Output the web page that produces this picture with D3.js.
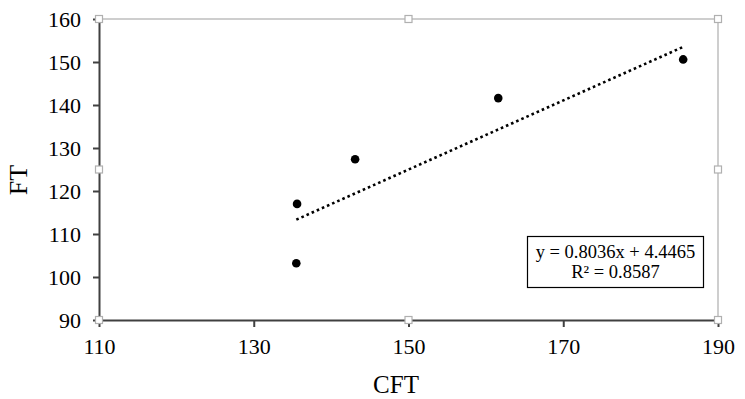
<html><head>
<title>CFT vs FT</title>
<script src="https://d3js.org/d3.v7.min.js"></script>
<style>
  body { margin: 0; background: #fff; }
  svg text { font-family: "Liberation Serif", "Times New Roman", serif; fill: #000; }
  .axis path, .axis line { stroke: #404040; stroke-width: 2; }
</style>
</head>
<body>
<svg id="scatter" width="745" height="399"></svg>
<script>

// data
let cft = [135.6, 135.5, 143.1, 161.6, 185.5];
let ft = [117.0, 103.2, 127.4, 141.6, 150.6];
let xTicks = [110, 130, 150, 170, 190];
let yTicks = [90, 100, 110, 120, 130, 140, 150, 160];
let slope = 0.8036, intercept = 4.4465;
let eqLines = ["y = 0.8036x + 4.4465", "R\u00B2 = 0.8587"];

const serif = "'Liberation Serif', 'Times New Roman', serif";

let svg = d3.select("svg#scatter");
let margin = { "top": 19, "right": 27, "bottom": 79, "left": 99 };
let chartWidth = 745 - margin.left - margin.right;
let chartHeight = 399 - margin.top - margin.bottom;

let xScale = d3.scaleLinear().domain([110, 190]).range([0, chartWidth]);
let yScale = d3.scaleLinear().domain([90, 160]).range([chartHeight, 0]);

let chart = svg.append("g")
  .attr("transform", "translate(" + margin.left + "," + margin.top + ")");

// light frame on top/right
chart.append("path")
  .attr("d", "M0,0H" + chartWidth + "V" + chartHeight)
  .attr("fill", "none")
  .attr("stroke", "#bfbfbf")
  .attr("stroke-width", 1.5);

// axes
let leftAxis = d3.axisLeft(yScale).tickValues(yTicks).tickSize(6).tickSizeOuter(0).tickPadding(12);
let yG = chart.append("g").attr("class", "y axis").call(leftAxis);

let bottomAxis = d3.axisBottom(xScale).tickValues(xTicks).tickSize(7).tickSizeOuter(0).tickPadding(11);
let xG = chart.append("g").attr("class", "x axis")
  .attr("transform", "translate(0," + chartHeight + ")")
  .call(bottomAxis);

// d3 puts sans-serif on the axis group, swap it for Times-like
[xG, yG].forEach(g => {
  g.attr("font-family", serif).attr("font-size", 22);
  g.selectAll("text").style("font-family", serif).style("font-size", "22px").attr("fill", "#000");
});

// selection handles
let hx = [0, chartWidth / 2, chartWidth];
let hy = [0, chartHeight / 2, chartHeight];
let handles = [];
hx.forEach((x, i) => hy.forEach((y, j) => { if (!(i == 1 && j == 1)) handles.push([x, y]); }));
chart.selectAll("rect.handle").data(handles).join("rect")
  .attr("class", "handle")
  .attr("x", d => d[0] - 3.5).attr("y", d => d[1] - 3.5)
  .attr("width", 7).attr("height", 7)
  .attr("fill", "#fff").attr("stroke", "#b0b0b0").attr("stroke-width", 1.2);

// trend line from the fitted equation
let xMin = d3.min(cft), xMax = d3.max(cft);
chart.append("line")
  .attr("x1", xScale(xMin)).attr("y1", yScale(slope * xMin + intercept))
  .attr("x2", xScale(xMax)).attr("y2", yScale(slope * xMax + intercept))
  .attr("stroke", "#000").attr("stroke-width", 2.6)
  .attr("stroke-dasharray", "2.6,3");

// points
chart.selectAll("circle").data(cft).join("circle")
  .attr("cx", d => xScale(d))
  .attr("cy", (d, i) => yScale(ft[i]))
  .attr("r", 4.3)
  .attr("fill", "#000");

// equation box
let box = svg.append("g");
box.append("rect")
  .attr("x", 527.5).attr("y", 236.5).attr("width", 176).attr("height", 51)
  .attr("fill", "#fff").attr("stroke", "#000").attr("stroke-width", 1.2);
box.selectAll("text").data(eqLines).join("text")
  .attr("x", 615.5).attr("y", (d, i) => 258 + i * 20)
  .attr("text-anchor", "middle")
  .style("font-family", serif)
  .style("font-size", "18.5px")
  .text(d => d);

// axis titles
svg.append("text")
  .attr("x", 396).attr("y", 393)
  .attr("text-anchor", "middle")
  .style("font-family", serif)
  .style("font-size", "25px")
  .text("CFT");

svg.append("text")
  .attr("transform", "translate(27,180) rotate(-90)")
  .attr("text-anchor", "middle")
  .style("font-family", serif)
  .style("font-size", "26px")
  .text("FT");

</script>
</body>
</html>
